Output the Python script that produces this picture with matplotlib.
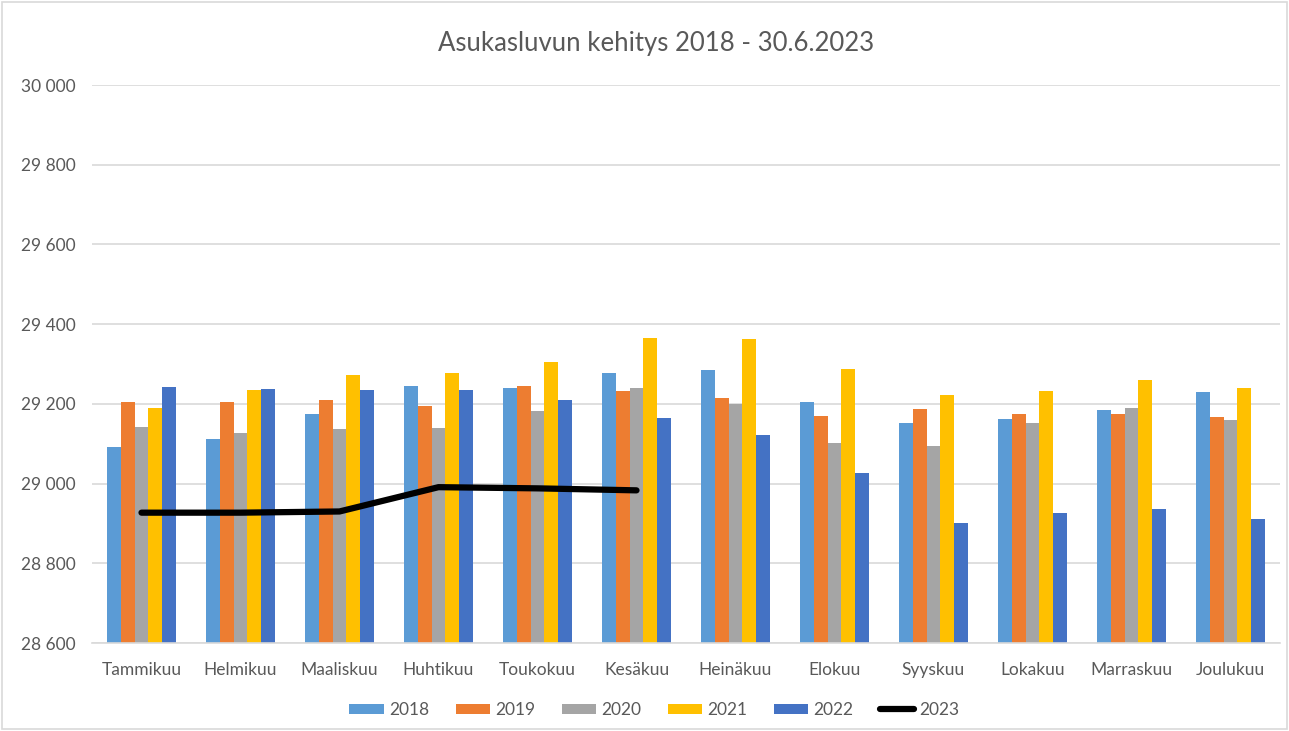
import numpy as np
import matplotlib.pyplot as plt
from matplotlib.ticker import FuncFormatter

months = ["Tammikuu", "Helmikuu", "Maaliskuu", "Huhtikuu", "Toukokuu", "Kesäkuu",
          "Heinäkuu", "Elokuu", "Syyskuu", "Lokakuu", "Marraskuu", "Joulukuu"]

v2018 = [29093, 29112, 29174, 29246, 29241, 29278, 29286, 29204, 29152, 29162, 29184, 29229]
v2019 = [29204, 29204, 29209, 29194, 29244, 29232, 29214, 29169, 29187, 29174, 29174, 29167]
v2020 = [29142, 29127, 29137, 29140, 29183, 29241, 29200, 29101, 29095, 29152, 29189, 29159]
v2021 = [29189, 29234, 29273, 29278, 29305, 29364, 29362, 29288, 29222, 29232, 29261, 29239]
v2022 = [29243, 29238, 29236, 29234, 29209, 29164, 29123, 29026, 28900, 28925, 28937, 28912]
v2023 = [28927, 28927, 28930, 28991, 28988, 28983]

bar_series = [("2018", v2018, "#5b9bd5"),
              ("2019", v2019, "#ed7d31"),
              ("2020", v2020, "#a5a5a5"),
              ("2021", v2021, "#ffc000"),
              ("2022", v2022, "#4472c4")]

plt.rcParams['font.family'] = ['Lato', 'DejaVu Sans']

fig = plt.figure(figsize=(12.89, 7.31), dpi=100)
ax = fig.add_axes([92 / 1289, 1 - 643 / 731, 1188 / 1289, 558 / 731])

x = np.arange(len(months))
w = 0.14
for i, (name, vals, col) in enumerate(bar_series):
    ax.bar(x + (i - 2) * w, np.array(vals) - 28600, w, bottom=28600,
           color=col, label=name, zorder=2)

ax.plot(np.arange(len(v2023)), v2023, color="black", linewidth=4.5,
        solid_capstyle="round", solid_joinstyle="round", label="2023", zorder=3)

ax.set_ylim(28600, 30000)
ax.set_xlim(-0.5, len(months) - 0.5)
ax.set_yticks(np.arange(28600, 30001, 200))
ax.yaxis.set_major_formatter(FuncFormatter(lambda v, p: f"{int(v):,}".replace(",", " ")))
ax.set_xticks(x)
ax.set_xticklabels(months)
ax.grid(axis="y", color="#d9d9d9", linewidth=1.2, zorder=0)
ax.set_axisbelow(True)
for s in ["top", "right", "left"]:
    ax.spines[s].set_visible(False)
ax.spines["bottom"].set_color("#d9d9d9")
ax.spines["bottom"].set_linewidth(1.2)
ax.tick_params(axis="both", length=0, colors="#595959", labelsize=12.5)
ax.tick_params(axis="y", pad=12)
ax.tick_params(axis="x", pad=14)

fig.text(0.5 + 12 / 1289, 1 - 43 / 731, "Asukasluvun kehitys 2018 - 30.6.2023", ha="center",
         va="center", fontsize=18.5, color="#595959")

handles, labels = ax.get_legend_handles_labels()
order = [1, 2, 3, 4, 5, 0]
leg = fig.legend([handles[i] for i in order], [labels[i] for i in order],
                 loc="center", bbox_to_anchor=(0.5 + 10 / 1289, 1 - 710 / 731), ncol=6,
                 frameon=False, fontsize=12.5, handlelength=2.0, handleheight=0.5,
                 columnspacing=1.5, handletextpad=0.3)
for t in leg.get_texts():
    t.set_color("#595959")

fig.patches.append(plt.Rectangle((2 / 1289, 2 / 731), 1 - 4 / 1289, 1 - 4 / 731,
                                 transform=fig.transFigure, fill=False,
                                 edgecolor="#d9d9d9", linewidth=1.2))

fig.savefig("out.png", dpi=100)
